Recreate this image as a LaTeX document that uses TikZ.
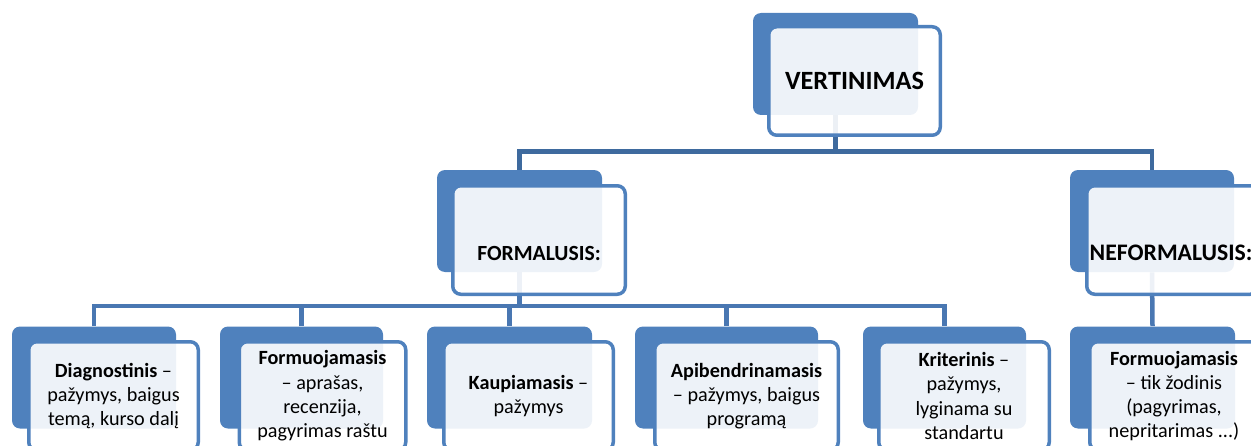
\documentclass[tikz,border=0pt]{standalone}
\usepackage{fontspec}
\setmainfont{Carlito}
\definecolor{boxblue}{HTML}{4F81BD}
\definecolor{linkdark}{HTML}{3E6A9E}
\definecolor{linkblue}{HTML}{4977B2}
\tikzset{
  backbox/.style={fill=boxblue, rounded corners=0.16cm, inner sep=0pt,
    minimum width=#1*0.02cm, minimum height=102*0.02cm},
  backbox/.default=165,
  frontbox/.style={draw=boxblue, line width=0.07cm, fill=white, fill opacity=0.9,
    text opacity=1, rounded corners=0.16cm, inner sep=0pt, align=center,
    minimum width=(#1-3.5)*0.02cm, minimum height=108.5*0.02cm,
    font=\fontsize{11.5}{13.8}\selectfont},
  frontbox/.default=174,
  link/.style={draw=linkblue, line width=0.09cm},
  toplink/.style={link, draw=linkdark},
  headtext/.style={font=\bfseries\fontsize{#1}{14}\selectfont},
  headtext/.default=12.3,
}

\begin{document}
\begin{tikzpicture}[x=0.02cm,y=-0.02cm]
\clip (0,0) rectangle (1251,446);

% back boxes
\node[backbox] (vert) at (835.5,64) {};
\node[backbox] (form) at (519.5,221) {};
\node[backbox=164] (neform) at (1152,221) {};
\node[backbox=164] (diag) at (94,377.5) {};
\node[backbox=163] (formu) at (301.5,377.5) {};
\node[backbox] (kaup) at (509.5,377.5) {};
\node[backbox=183] (apib) at (726.5,377.5) {};
\node[backbox=163] (krit) at (944.5,377.5) {};
\node[backbox] (neformu) at (1152.5,377.5) {};

% connectors
\draw[toplink] (vert.south) -- ++(0,37);
\draw[toplink] (form.north) -- ++(0,-18) -| (neform.north);
\draw[link] (form.south) -- ++(0,35);
\draw[link] (diag.north) -- ++(0,-20) -| (krit.north);
\foreach \n in {formu,kaup,apib}
  \draw[link] (\n.north) -- ++(0,-20);
\draw[link] (neform.south) -- (neformu.north);

% front boxes
\node[frontbox=175, font=\bfseries\fontsize{15}{18}\selectfont] (vertf) at (854.5,81) {VERTINIMAS};
\node[frontbox=176] (formf) at (539,240) {};
\node[headtext] (formt) at (539,253) {FORMALUSIS:};
\node[frontbox=175] (neformf) at (1172.5,240) {};
\node[headtext=13.5] (neformt) at (1171,253) {NEFORMALUSIS:};

\node[frontbox=173] (diagf) at (113.5,396) {\textbf{Diagnostinis} –\\pažymys, baigus\\temą, kurso dalį};
\node[frontbox=170] (formuf) at (322.5,396) {\textbf{Formuojamasis}\\– aprašas,\\recenzija,\\pagyrimas raštu};
\node[frontbox=173] (kaupf) at (528.5,396) {\textbf{Kaupiamasis} –\\pažymys};
\node[frontbox=187] (apibf) at (746.5,396) {\textbf{Apibendrinamasis}\\– pažymys, baigus\\programą};
\node[frontbox=174] (kritf) at (964,396) {\textbf{Kriterinis} –\\pažymys,\\lyginama su\\standartu};
\node[frontbox=172] (neformuf) at (1174,396) {\textbf{Formuojamasis}\\– tik žodinis\\(pagyrimas,\\nepritarimas ...)};
\end{tikzpicture}
\end{document}
